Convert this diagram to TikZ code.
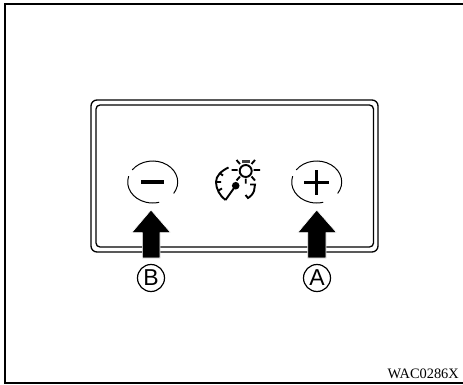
\documentclass[tikz,border=0pt]{standalone}
\usepackage{fontspec}
\setmainfont{Liberation Serif}
\setsansfont{Liberation Sans}
\tikzset{
  frameline/.style={draw=black,line width=1.6pt},
  panel/.style={draw=black,line width=1.3pt},
  btn/.style={draw=black,line width=1pt},
  sym/.style={draw=black,line width=3.4pt},
  bigarrow/.style={fill=black,draw=white,line width=0.6pt},
  callout/.style={circle,draw=black,line width=1.2pt,minimum size=27pt,inner sep=0pt,font=\sffamily\fontsize{23}{23}\selectfont},
  icon/.style={draw=black,line width=1.9pt},
  code/.style={font=\fontsize{14.4}{14.4}\selectfont,anchor=base east,inner sep=0pt}
}
\begin{document}
\begin{tikzpicture}[x=1pt,y=-1pt]
\useasboundingbox (0,0) rectangle (463,385);
\fill[white] (0,0) rectangle (463,385);
\draw[frameline] (463,3.8) -- (5,3.8) -- (5,382.8) -- (463,382.8);
\draw[panel,rounded corners=6pt] (91,100) rectangle (378,252);
\draw[panel,rounded corners=4pt] (96,105) rectangle (373.5,247);
% minus button
\coordinate (mc) at (152.7,182);
\draw[btn] (mc) ++(-145:25 and 21) arc[start angle=-145,end angle=33,x radius=25,y radius=21];
\draw[btn] (mc) ++(196:25 and 21) arc[start angle=196,end angle=75,x radius=25,y radius=21];
\draw[sym] (141,182) -- (164,182);
% plus button
\coordinate (pc) at (316.7,182);
\draw[btn] (pc) ++(-145:25 and 21) arc[start angle=-145,end angle=33,x radius=25,y radius=21];
\draw[btn] (pc) ++(196:25 and 21) arc[start angle=196,end angle=75,x radius=25,y radius=21];
\draw[sym] (304,182.5) -- (329,182.5) (316.5,170) -- (316.5,195);
% arrows
\path[bigarrow] (151,210) -- (170.7,232.7) -- (160,232.7) -- (160,258) -- (142.3,258) -- (142.3,232.7) -- (131.7,232.7) -- cycle;
\path[bigarrow] (316.7,210) -- (336.7,232.7) -- (326,232.7) -- (326,258) -- (307.7,258) -- (307.7,232.7) -- (297.7,232.7) -- cycle;
% callouts
\node[callout] (b) at (151,278) {B};
\node[callout] (a) at (317,278) {A};
% icon
\draw[icon] (228.5,167.5) .. controls (221,171) and (216,176) .. (216,182) .. controls (216,189) and (220,196) .. (225.5,200);
\draw[icon] (225.5,200) -- (235.7,185.7);
\fill (235.7,185.7) circle[radius=3.8];
\draw[icon] (219.5,173) -- (223,175.5) (216,182) -- (221,182) (218.5,190.5) -- (222,188.5);
\draw[icon] (250,184.5) -- (255,184.5) -- (254,191) .. controls (253,194) and (250,197) .. (248,198) -- (245.5,195);
\draw[icon] (245.7,171) circle[radius=6];
\fill[black!75] (241.5,159.5) rectangle (250,163);
\draw[icon] (231.7,170) -- (237.5,170) (253.5,170) -- (260,170) (236.5,160) -- (240,164) (255,160) -- (251.5,164) (236.5,180.5) -- (240,176.5) (255,180.5) -- (251.5,176.5) (245.7,178.5) -- (245.7,183.5);
\node[code] (w) at (459,378) {WAC0286X};
\end{tikzpicture}
\end{document}
